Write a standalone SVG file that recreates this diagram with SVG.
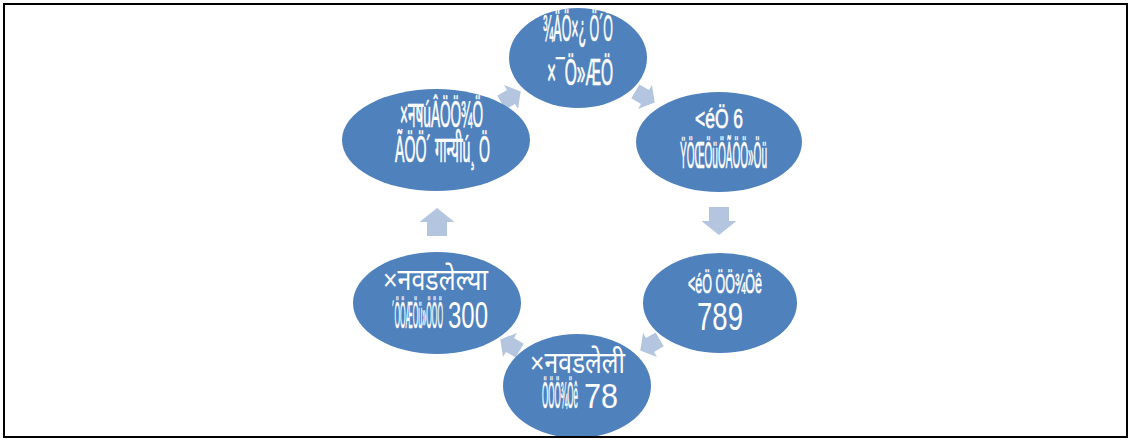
<svg xmlns="http://www.w3.org/2000/svg" width="1131" height="440" viewBox="0 0 1131 440">
<defs>
<style>
.bg{fill:#ffffff}
.frame{fill:none;stroke:#000;stroke-width:2}
.node{fill:#4f81bd}
.arr{fill:#b4c5df}
.t{fill:#ffffff;font-family:"Liberation Sans","Noto Sans Devanagari","Lohit Devanagari","Noto Sans","DejaVu Sans",sans-serif;font-size:37px}
.m{stroke:#ffffff;stroke-width:0.7}
.d{font-size:30px}
.s{font-size:28px}
</style>
<path id="ar" d="M-14,-10 L0,-10 L0,-17.5 L14,0 L0,17.5 L0,10 L-14,10 Z"/>
</defs>
<rect class="bg" x="0" y="0" width="1131" height="440"/>
<g id="connectors">
<use href="#ar" class="arr" transform="translate(645,97) rotate(30) scale(0.8)"/>
<use href="#ar" class="arr" transform="translate(719,221) rotate(90)"/>
<use href="#ar" class="arr" transform="translate(650,345) rotate(150) scale(0.8)"/>
<use href="#ar" class="arr" transform="translate(510,345) rotate(210) scale(0.8)"/>
<use href="#ar" class="arr" transform="translate(437,222) rotate(270)"/>
<use href="#ar" class="arr" transform="translate(511,97) rotate(330) scale(0.8)"/>
</g>
<g id="n1">
<ellipse class="node" cx="578" cy="58" rx="69" ry="50"/>
<text class="t m" x="543" y="41" textLength="70" lengthAdjust="spacingAndGlyphs">¾ÄÖ×¿ Ö´Ö</text>
<text class="t m" x="547" y="85" textLength="66" lengthAdjust="spacingAndGlyphs">×¯Ö»ÆÖ</text>
</g>
<g id="n2">
<ellipse class="node" cx="719" cy="142" rx="83" ry="50"/>
<text class="t s m" x="695" y="128" textLength="48" lengthAdjust="spacingAndGlyphs">&lt;éÖ 6</text>
<text class="t m" x="680" y="168" textLength="87" lengthAdjust="spacingAndGlyphs">ŸÖŒÖüÖÃÖÖ»Öü</text>
</g>
<g id="n3">
<ellipse class="node" cx="720" cy="303" rx="77" ry="50"/>
<text class="t s m" x="688" y="293" textLength="74" lengthAdjust="spacingAndGlyphs">&lt;éÖ ÖÖ¾Öê</text>
<text class="t" x="697" y="330" textLength="46" lengthAdjust="spacingAndGlyphs" style="font-size:39px">789</text>
</g>
<g id="n4">
<ellipse class="node" cx="577" cy="386" rx="74" ry="52"/>
<text class="t d" x="530" y="373" textLength="95" lengthAdjust="spacingAndGlyphs">×नवडलेली</text>
<text class="t m" x="542" y="408" textLength="36" lengthAdjust="spacingAndGlyphs">ÖÖÖ¾Öê</text>
<text class="t" x="584" y="408" textLength="34" lengthAdjust="spacingAndGlyphs" style="font-size:35px">78</text>
</g>
<g id="n5">
<ellipse class="node" cx="437" cy="303" rx="84" ry="51"/>
<text class="t d" x="383" y="290" textLength="105" lengthAdjust="spacingAndGlyphs">×नवडलेल्या</text>
<text class="t m" x="392" y="328" textLength="51" lengthAdjust="spacingAndGlyphs">´ÖÖÆÖü»ÖÖÖ</text>
<text class="t" x="448" y="328" textLength="40" lengthAdjust="spacingAndGlyphs" style="font-size:37px">300</text>
</g>
<g id="n6">
<ellipse class="node" cx="436" cy="140" rx="94" ry="51"/>
<text class="t m" x="400" y="127" textLength="83" lengthAdjust="spacingAndGlyphs">×नषúÂÖÖ¾Ö</text>
<text class="t m" x="395" y="162" textLength="95" lengthAdjust="spacingAndGlyphs">ÃÖÖ´ गान्यीú¸ Ö</text>
</g>
<rect class="frame" x="4" y="4" width="1123" height="433"/>
</svg>
